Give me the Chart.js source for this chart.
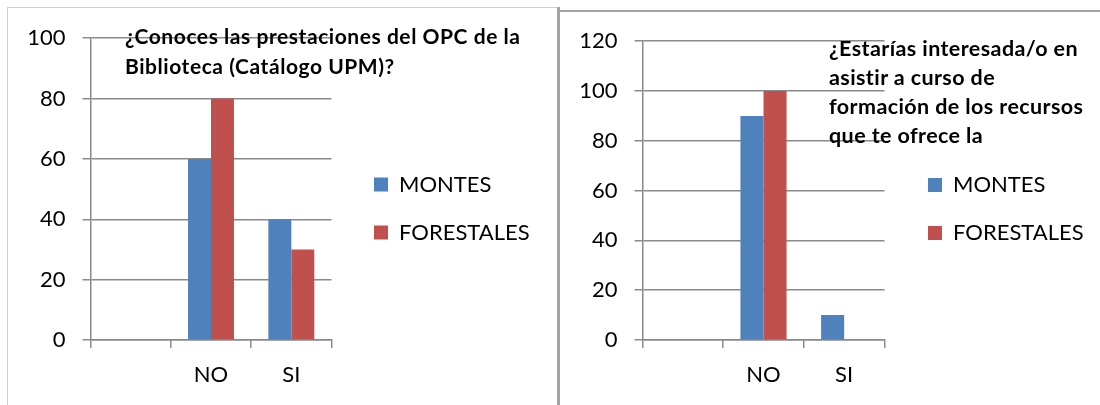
<!DOCTYPE html>
<html lang="es">
<head>
<meta charset="UTF-8">
<title>Encuesta Biblioteca - MONTES / FORESTALES</title>
<script src="https://cdn.jsdelivr.net/npm/chart.js"></script>
<style>
    body {
        margin: 0;
        background: #fff;
        font-family: Lato, "Open Sans", sans-serif;
    }
    #hoja {
        position: relative;
        width: 1100px;
        height: 405px;
        overflow: hidden;
    }
    .linea { position: absolute; }
    #borde1-izq { left: 7px; top: 7px; width: 1px; height: 400px; background: #d0d0d0; }
    #borde1-sup { left: 7px; top: 7px; width: 551px; height: 1px; background: #d0d0d0; }
    #separador { left: 557px; top: 7px; width: 3px; height: 400px; background: #a3a3a3; }
    #borde2-sup { left: 560px; top: 10px; width: 540px; height: 2px; background: #a3a3a3; }

    .caja { position: absolute; }
    #caja1 { left: 8px; top: 8px; }
    #caja2 { left: 560px; top: 11px; }

    .titulo {
        position: absolute;
        font-weight: bold;
        color: #000;
        white-space: nowrap;
        z-index: 2;
    }
    #titulo1 { left: 125px; top: 21px; font-size: 21px; letter-spacing: 0.55px; line-height: 30px; }
    #titulo2 { left: 829px; top: 34px; font-size: 21.5px; letter-spacing: 0.4px; line-height: 29px; }
</style>
</head>
<body>
<div id="hoja">
    <div class="linea" id="borde1-izq"></div>
    <div class="linea" id="borde1-sup"></div>
    <div class="linea" id="separador"></div>
    <div class="linea" id="borde2-sup"></div>

    <div class="caja" id="caja1"><canvas id="grafica1" width="548" height="397"></canvas></div>
    <div class="caja" id="caja2"><canvas id="grafica2" width="540" height="394"></canvas></div>

    <div class="titulo" id="titulo1">¿Conoces las prestaciones del OPC de la<br>Biblioteca (Catálogo UPM)?</div>
    <div class="titulo" id="titulo2">¿Estarías interesada/o en<br>asistir a curso de<br>formación de los recursos<br>que te ofrece la</div>
</div>

<script>
    // Datos
    const categorias = ['', 'NO', 'SI'];
    const series = ['MONTES', 'FORESTALES'];

    // ¿Conoces las prestaciones del OPC?
    const opcMontes = [null, 60, 40];
    const opcForestales = [null, 80, 30];
    const opcTicksMax = 100;

    // ¿Estarías interesada/o en asistir a curso?
    const cursoMontes = [null, 90, 10];
    const cursoForestales = [null, 100, 0];
    const cursoTicksMax = 120;

    const azul = '#4f81bd';
    const rojo = '#c0504d';
    const gris = '#8a8a8a';

    // La leyenda se calcula dentro del area y luego se saca a la derecha de ella
    const moverLeyenda = {
        id: 'moverLeyenda',
        afterLayout(chart, args, opts) {
            const ley = chart.legend;
            if (!ley) return;
            const area = chart.chartArea;
            ley.left = area.right + opts.dx;
            ley.right = ley.left + ley.width;
            ley.top = area.top + opts.dy;
            ley.bottom = area.bottom + opts.dy;
        }
    };

    function crearGrafica(idCanvas, montes, forestales, maxY, ajuste) {
        const canvas = document.getElementById(idCanvas);
        const ctx = canvas.getContext('2d');
        return new Chart(ctx, {
            type: 'bar',
            data: {
                labels: categorias,
                datasets: [
                    { label: series[0], data: montes, backgroundColor: azul },
                    { label: series[1], data: forestales, backgroundColor: rojo }
                ]
            },
            plugins: [moverLeyenda],
            options: {
                responsive: false,
                animation: false,
                events: [],
                layout: {
                    padding: { top: ajuste.top, left: 0, right: canvas.width - ajuste.finArea, bottom: 0 }
                },
                datasets: {
                    bar: { categoryPercentage: 0.572, barPercentage: 1 }
                },
                scales: {
                    x: {
                        grid: {
                            drawOnChartArea: false,
                            drawTicks: true,
                            tickLength: 8,
                            color: gris,
                            lineWidth: 1.5
                        },
                        border: { display: true, color: gris, width: 1.5 },
                        ticks: {
                            color: '#000',
                            padding: 14,
                            font: { family: 'Lato', size: 22 }
                        },
                        afterFit: (escala) => { escala.height = ajuste.altoX; }
                    },
                    y: {
                        min: 0,
                        max: maxY,
                        ticks: {
                            stepSize: 20,
                            color: '#000',
                            padding: 17,
                            font: { family: 'Lato', size: 22 }
                        },
                        grid: {
                            color: gris,
                            lineWidth: 1.5,
                            tickLength: 8
                        },
                        border: { display: true, color: gris, width: 1.5 },
                        afterFit: (escala) => { escala.width = ajuste.anchoY; }
                    }
                },
                plugins: {
                    title: { display: false },
                    tooltip: { enabled: false },
                    legend: {
                        position: 'chartArea',
                        labels: {
                            boxWidth: 14,
                            boxHeight: 14,
                            padding: 26,
                            color: '#000',
                            font: { family: 'Lato', size: 22 }
                        }
                    },
                    moverLeyenda: { dx: ajuste.dx, dy: ajuste.dy }
                }
            }
        });
    }

    crearGrafica('grafica1', opcMontes, opcForestales, opcTicksMax,
        { top: 27, finArea: 323.5, altoX: 65, anchoY: 82.5, dx: 16.5, dy: 19.5 });

    crearGrafica('grafica2', cursoMontes, cursoForestales, cursoTicksMax,
        { top: 29, finArea: 324.5, altoX: 65, anchoY: 82.5, dx: 17.5, dy: 18.5 });
</script>
</body>
</html>
